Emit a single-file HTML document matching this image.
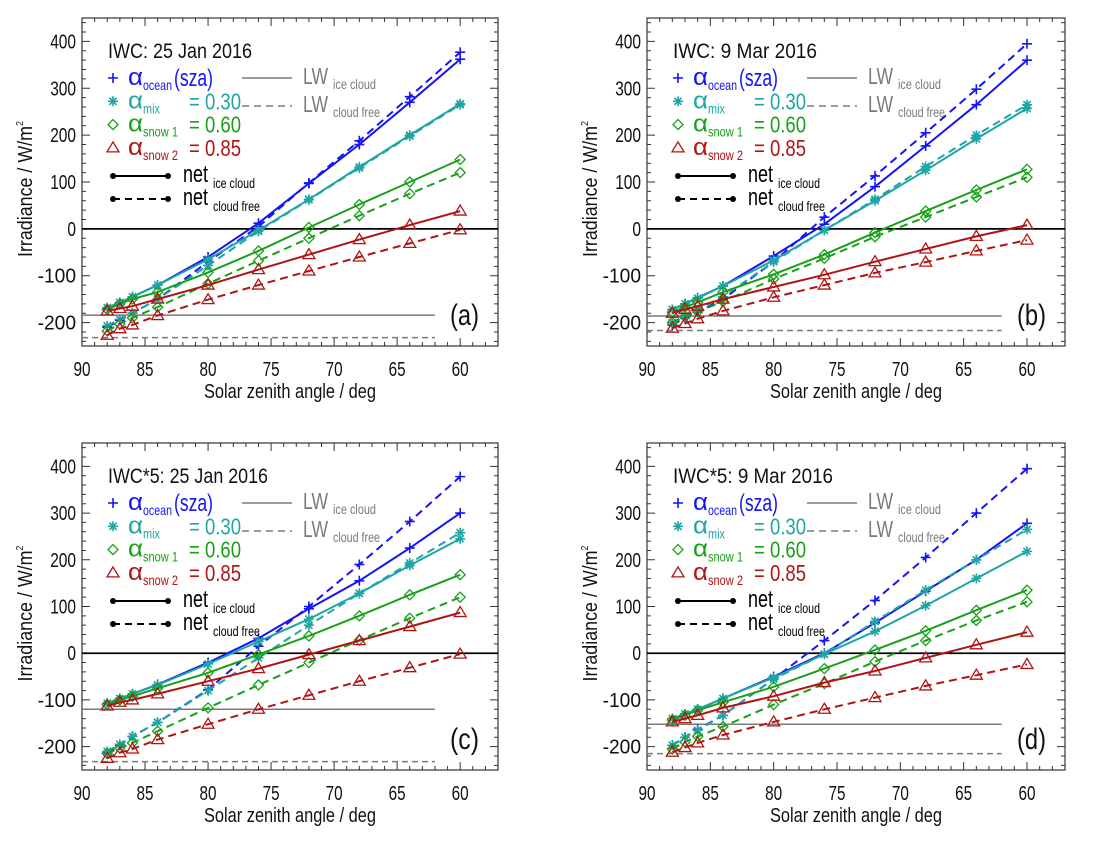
<!DOCTYPE html>
<html><head><meta charset="utf-8">
<style>
html,body{margin:0;padding:0;background:#fff;}
svg{display:block;font-family:"Liberation Sans",sans-serif;}
</style></head>
<body>
<svg id="fig" width="1118" height="841" viewBox="0 0 1118 841" xmlns="http://www.w3.org/2000/svg"></svg>
<script>
const sza = [88, 87, 86, 84, 80, 76, 72, 68, 64, 60];
const xTicks = [90, 85, 80, 75, 70, 65, 60];
const yTicks = [-200, -100, 0, 100, 200, 300, 400];
const panelTitles = ["IWC: 25 Jan 2016", "IWC:  9 Mar 2016", "IWC*5: 25 Jan 2016", "IWC*5: 9 Mar 2016"];
const panelLetters = ["(a)", "(b)", "(c)", "(d)"];
// panel a
const a_ocean_ice = [-170,-158,-145,-120,-60,12,97,180,270,362];
const a_ocean_free = [-210,-195,-180,-150,-70,5,98,188,282,377];
const a_mix_ice = [-168,-157,-145,-120,-65,-3,63,132,200,267];
const a_mix_free = [-207,-193,-180,-150,-78,-5,62,130,198,265];
const a_snow1_ice = [-172,-160,-150,-135,-93,-47,3,52,100,148];
const a_snow1_free = [-218,-203,-190,-167,-117,-68,-20,28,75,120];
const a_snow2_ice = [-175,-170,-165,-150,-120,-87,-55,-23,8,38];
const a_snow2_free = [-227,-213,-205,-185,-151,-120,-90,-60,-31,-2];
const a_lw = [-184, -232];
// panel b
const b_ocean_ice = [-172,-160,-147,-122,-58,10,90,177,265,360];
const b_ocean_free = [-205,-190,-178,-150,-70,25,113,205,298,395];
const b_mix_ice = [-172,-160,-148,-122,-67,-3,60,125,192,257];
const b_mix_free = [-200,-185,-172,-145,-70,-3,63,133,200,265];
const b_snow1_ice = [-178,-167,-157,-135,-97,-55,-8,38,83,127];
const b_snow1_free = [-200,-188,-177,-155,-107,-63,-17,25,68,110];
const b_snow2_ice = [-180,-172,-165,-150,-124,-98,-70,-43,-16,8];
const b_snow2_free = [-212,-202,-192,-175,-146,-120,-94,-71,-47,-24];
const b_lw = [-186, -217];
// panel c
const c_ocean_ice = [-107,-97,-87,-67,-20,32,95,155,225,300];
const c_ocean_free = [-213,-197,-178,-148,-78,15,100,190,282,378];
const c_mix_ice = [-107,-97,-87,-68,-23,25,73,128,188,245];
const c_mix_free = [-210,-195,-178,-148,-80,-10,60,128,193,258];
const c_snow1_ice = [-110,-100,-92,-75,-42,-3,37,80,125,168];
const c_snow1_free = [-215,-203,-192,-167,-117,-68,-20,28,75,120];
const c_snow2_ice = [-113,-105,-100,-87,-60,-33,-3,27,57,87];
const c_snow2_free = [-225,-213,-205,-185,-152,-120,-90,-60,-31,-2];
const c_lw = [-120, -232];
// panel d
const d_ocean_ice = [-140,-130,-120,-97,-50,0,65,133,200,278];
const d_ocean_free = [-197,-180,-163,-133,-55,27,113,205,300,395];
const d_mix_ice = [-140,-130,-120,-97,-52,-2,47,102,160,218];
const d_mix_free = [-197,-180,-165,-133,-55,-2,68,135,200,265];
const d_snow1_ice = [-143,-133,-122,-105,-72,-33,7,48,92,135];
const d_snow1_free = [-205,-190,-178,-157,-110,-65,-18,27,70,110];
const d_snow2_ice = [-147,-140,-133,-117,-92,-63,-38,-10,18,45];
const d_snow2_free = [-212,-202,-192,-175,-147,-120,-95,-70,-47,-24];
const d_lw = [-152, -215];

const NS = "http://www.w3.org/2000/svg";
const svg = document.getElementById("fig");
const COL = {ocean:"#1414f5", mix:"#1fa5a5", snow1:"#19a019", snow2:"#b01414", gray:"#7a7a7a"};
function el(tag, attrs, parent){
  const e = document.createElementNS(NS, tag);
  for (const k in attrs) e.setAttribute(k, attrs[k]);
  (parent||svg).appendChild(e);
  return e;
}
function txt(parent, x, y, size, len, fill, content, anchor){
  const a = {x:x, y:y, "font-size":size, fill:fill};
  if (len) { a.textLength = len; a.lengthAdjust = "spacingAndGlyphs"; }
  if (anchor) a["text-anchor"] = anchor;
  const t = el("text", a, parent);
  t.textContent = content;
  return t;
}
function marker(g, type, x, y, c){
  const s = 5;
  if (type==="plus"){
    return el("path",{d:`M${x-s} ${y}H${x+s}M${x} ${y-s}V${y+s}`,stroke:c,"stroke-width":1.6,fill:"none"},g);
  } else if (type==="star"){
    return el("path",{d:`M${x-s} ${y}H${x+s}M${x} ${y-s}V${y+s}M${x-3.6} ${y-3.6}L${x+3.6} ${y+3.6}M${x-3.6} ${y+3.6}L${x+3.6} ${y-3.6}`,stroke:c,"stroke-width":1.6,fill:"none"},g);
  } else if (type==="diamond"){
    return el("path",{d:`M${x} ${y-s}L${x+s} ${y}L${x} ${y+s}L${x-s} ${y}Z`,stroke:c,"stroke-width":1.3,fill:"none"},g);
  }
  return el("path",{d:`M${x} ${y-s-1}L${x+s+1} ${y+s-1}L${x-s-1} ${y+s-1}Z`,stroke:c,"stroke-width":1.3,fill:"none"},g);
}
const panels = [
  {id:"a", L:82, T:18, R:498, B:346, series:[a_ocean_ice,a_ocean_free,a_mix_ice,a_mix_free,a_snow1_ice,a_snow1_free,a_snow2_ice,a_snow2_free], lw:a_lw},
  {id:"b", L:647, T:18, R:1065, B:346, series:[b_ocean_ice,b_ocean_free,b_mix_ice,b_mix_free,b_snow1_ice,b_snow1_free,b_snow2_ice,b_snow2_free], lw:b_lw},
  {id:"c", L:82, T:443, R:498, B:770, series:[c_ocean_ice,c_ocean_free,c_mix_ice,c_mix_free,c_snow1_ice,c_snow1_free,c_snow2_ice,c_snow2_free], lw:c_lw},
  {id:"d", L:647, T:443, R:1065, B:770, series:[d_ocean_ice,d_ocean_free,d_mix_ice,d_mix_free,d_snow1_ice,d_snow1_free,d_snow2_ice,d_snow2_free], lw:d_lw}
];
const seriesMeta = [
  ["ocean","plus","ice"],["ocean","plus","free"],["mix","star","ice"],["mix","star","free"],
  ["snow1","diamond","ice"],["snow1","diamond","free"],["snow2","tri","ice"],["snow2","tri","free"]
];
panels.forEach((p, pi) => {
  const g = el("g",{});
  
  
  const xs = v => p.L + (90 - v) / 33 * (p.R - p.L);
  const ys = v => p.B - (v + 250) / 700 * (p.B - p.T);
  let td = "";
  for (let v = 90; v >= 57; v--) {
    const x = xs(v), len = (v % 5 === 0) ? 8 : 4;
    td += `M${x} ${p.B}V${p.B-len}M${x} ${p.T}V${p.T+len}`;
  }
  for (let v = -240; v <= 440; v += 20) {
    const y = ys(v), len = (v % 100 === 0) ? 8 : 4;
    td += `M${p.L} ${y}H${p.L+len}M${p.R} ${y}H${p.R-len}`;
  }
  const ticks = el("path",{d:td,stroke:"#333","stroke-width":1,fill:"none"},g);
  
  
  const frame = el("rect",{x:p.L,y:p.T,width:p.R-p.L,height:p.B-p.T,fill:"none",stroke:"#333","stroke-width":1.2},g);
  
  
  xTicks.forEach(v => {
    const t = txt(g, xs(v), p.B+30, 20, 17, "#111", String(v), "middle");
    
    
  });
  yTicks.forEach(v => {
    const s = String(v);
    const t = txt(g, p.L-6, ys(v)+7, 20, s.length*8.6 + (v<0?4:0), "#111", s, "end");
    
    
  });
  const xl = txt(g, (p.L+p.R)/2 - 86, p.B+52, 20, 172, "#111", "Solar zenith angle / deg");
  
  
  const yl = el("text",{x:0,y:0,"font-size":20,"text-anchor":"middle",fill:"#111",textLength:136,lengthAdjust:"spacingAndGlyphs",transform:`translate(${p.L-50},${(p.T+p.B)/2+7}) rotate(-90)`},g);
  yl.innerHTML = 'Irradiance / W/m<tspan font-size="10" dy="-9">2</tspan>';
  
  
  const z = el("line",{x1:p.L,x2:p.R,y1:ys(0),y2:ys(0),stroke:"#000","stroke-width":1.8},g);
  
  
  const lw1 = el("line",{x1:p.L,x2:xs(62),y1:ys(p.lw[0]),y2:ys(p.lw[0]),stroke:COL.gray,"stroke-width":1.5},g);
  
  
  const lw2 = el("line",{x1:p.L,x2:xs(62),y1:ys(p.lw[1]),y2:ys(p.lw[1]),stroke:COL.gray,"stroke-width":1.5,"stroke-dasharray":"6 4"},g);
  
  
  p.series.forEach((vals, si) => {
    const [col, mk, kind] = seriesMeta[si];
    const sg = el("g",{},g);
    
    
    const pts = vals.map((v, i) => `${xs(sza[i]).toFixed(1)},${ys(v).toFixed(1)}`).join(" ");
    const attrs = {points:pts,fill:"none",stroke:COL[col],"stroke-width":2};
    if (kind === "free") attrs["stroke-dasharray"] = "8 5";
    el("polyline",attrs,sg);
    vals.forEach((v, i) => {
      const m = marker(sg, mk, xs(sza[i]), ys(v), COL[col]);
      
      
    });
  });
  const ti = txt(g, p.L+26, p.T+40, 21, panelTitles[pi].startsWith("IWC*5") ? 160 : 144, "#111", panelTitles[pi]);
  
  
  const lt = txt(g, p.R-48, p.B-21, 30, 29, "#111", panelLetters[pi]);
  
  
  // legend
  const lg = el("g",{},g);
  
  
  const rows = [
    ["ocean","plus","ocean","(sza)",29],["mix","star","mix","= 0.30",17],
    ["snow1","diamond","snow 1","= 0.60",35],["snow2","tri","snow 2","= 0.85",35]
  ];
  rows.forEach((r, ri) => {
    const cy = p.T + 60 + ri * 23.3;
    const m = marker(lg, r[1], p.L+31, cy, COL[r[0]]);
    
    
    const t = txt(lg, p.L+46, cy+7, 24, 15, COL[r[0]], "α");
    
    
    const s = txt(lg, p.L+61, cy+12, 14, r[4], COL[r[0]], r[2]);
    
    
    const t2 = r[0]==="ocean" ? txt(lg, p.L+92, cy+8, 24, 39, COL[r[0]], r[3]) : txt(lg, p.L+107, cy+8, 23, 52, COL[r[0]], r[3]);
    
    
  });
  [["ice cloud",false,42],["cloud free",true,47]].forEach((n, ni) => {
    const cy = p.T + 158 + ni * 23;
    const la = {x1:p.L+31,x2:p.L+86,y1:cy,y2:cy,stroke:"#000","stroke-width":2};
    if (n[1]) la["stroke-dasharray"] = "7 5";
    const ln = el("line",la,lg);
    
    
    el("circle",{cx:p.L+31,cy:cy,r:3,fill:"#000"},lg);
    el("circle",{cx:p.L+86,cy:cy,r:3,fill:"#000"},lg);
    const t = txt(lg, p.L+101, cy+6, 24, 25, "#000", "net");
    
    
    const s = txt(lg, p.L+131, cy+12, 14, n[2], "#000", n[0]);
    
    
  });
  [["ice cloud",false,43],["cloud free",true,47]].forEach((n, ni) => {
    const cy = p.T + 60 + ni * 28;
    const la = {x1:p.L+160,x2:p.L+210,y1:cy,y2:cy,stroke:COL.gray,"stroke-width":1.5};
    if (n[1]) la["stroke-dasharray"] = "7 5";
    const ln = el("line",la,lg);
    
    
    const t = txt(lg, p.L+221, cy+6, 23, 25, COL.gray, "LW");
    
    
    const s = txt(lg, p.L+251, cy+11, 14, n[2], COL.gray, n[0]);
    
    
  });
});
</script>
</body></html>
